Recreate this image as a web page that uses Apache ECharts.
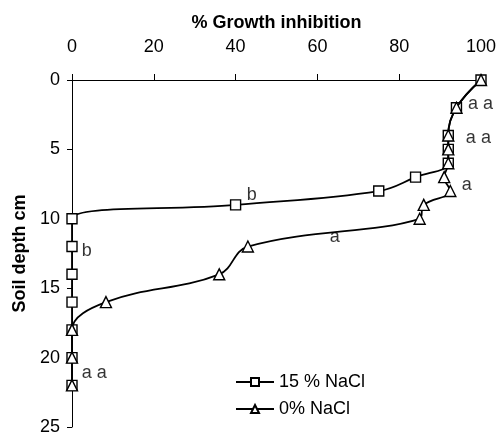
<!DOCTYPE html>
<html>
<head>
<meta charset="utf-8">
<script src="https://cdn.jsdelivr.net/npm/echarts@6/dist/echarts.min.js"></script>
<style>
  html, body { margin: 0; padding: 0; background: #fff; }
  #chart { width: 500px; height: 436px; }
</style>
</head>
<body>
<div id="chart"></div>
<script>
// depth (cm) and % growth inhibition
let depth = [0, 2, 4, 5, 6, 7, 8, 9, 10, 12, 14, 16, 18, 20, 22];
let inhib15 = [100, 94, 92, 92, 92, 84, 75, 40, 0, 0, 0, 0, 0, 0, 0];
let inhib0 = [100, 94, 92, 92, 92, 91, 92.5, 86, 85, 43, 36, 8.3, 0, 0, 0];
let xTicks = [0, 20, 40, 60, 80, 100];
let yTicks = [0, 5, 10, 15, 20, 25];

// significance letters next to the points
let noteText = ['a a', 'a a', 'a', 'b', 'b', 'a', 'a a'];
let noteX = [96.8, 96.3, 95.3, 42.7, 2.4, 63, 2.4];
let noteY = [1.7, 4.2, 7.6, 8.3, 12.3, 11.3, 21.1];

let font = 'Liberation Sans, Arial, sans-serif';

function pairs(xs, ys) {
    let out = [];
    for (let i = 0; i < xs.length; i++) {
        out.push([xs[i], ys[i]]);
    }
    return out;
}

let notes = [];
for (let i = 0; i < noteText.length; i++) {
    notes.push({ value: [noteX[i], noteY[i]], name: noteText[i] });
}

let myChart = echarts.init(document.getElementById('chart'));
let option = {
    animation: false,
    textStyle: { fontFamily: font, color: '#000' },
    grid: {
        left: 72,
        right: 19,
        top: 80,
        bottom: 7
    },
    legend: {
        orient: 'vertical',
        left: 230,
        top: 368,
        itemWidth: 38,
        itemHeight: 10,
        itemGap: 9,
        textStyle: { fontFamily: font, fontSize: 18, color: '#000' },
        data: ['15 % NaCl', '0% NaCl']
    },
    xAxis: {
        type: 'value',
        position: 'top',
        min: xTicks[0],
        max: xTicks[xTicks.length - 1],
        interval: 20,
        name: '% Growth inhibition',
        nameLocation: 'middle',
        nameGap: 48,
        nameTextStyle: { fontFamily: font, fontSize: 18, fontWeight: 'bold', color: '#000' },
        axisLine: { lineStyle: { color: '#000', width: 1 } },
        axisTick: { show: true, length: 6, lineStyle: { color: '#000' } },
        axisLabel: { fontFamily: font, fontSize: 18, color: '#000', margin: 24 },
        splitLine: { show: false }
    },
    yAxis: {
        type: 'value',
        inverse: true,
        min: yTicks[0],
        max: yTicks[yTicks.length - 1],
        interval: 5,
        name: 'Soil depth cm',
        nameLocation: 'middle',
        nameGap: 41,
        nameTextStyle: { fontFamily: font, fontSize: 18, fontWeight: 'bold', color: '#000' },
        axisLine: { lineStyle: { color: '#000', width: 1 } },
        axisTick: { show: true, length: 5, lineStyle: { color: '#000' } },
        axisLabel: { fontFamily: font, fontSize: 18, color: '#000', margin: 12 },
        splitLine: { show: false }
    },
    series: [
        {
            name: '15 % NaCl',
            type: 'line',
            smooth: 0.4,
            clip: false,
            symbol: 'rect',
            symbolSize: 10,
            z: 2,
            lineStyle: { color: '#000', width: 1.8 },
            itemStyle: { color: '#fff', borderColor: '#000', borderWidth: 1.4 },
            data: pairs(inhib15, depth)
        },
        {
            name: '0% NaCl',
            type: 'line',
            smooth: 0.4,
            clip: false,
            symbol: 'triangle',
            symbolSize: 11,
            z: 3,
            lineStyle: { color: '#000', width: 1.8 },
            itemStyle: { color: '#fff', borderColor: '#000', borderWidth: 1.4 },
            data: pairs(inhib0, depth)
        },
        {
            name: 'notes',
            type: 'scatter',
            symbolSize: 0,
            clip: false,
            silent: true,
            label: {
                show: true,
                position: 'right',
                distance: 0,
                formatter: '{b}',
                fontFamily: font,
                fontSize: 18,
                color: '#000'
            },
            data: notes
        }
    ]
};
myChart.setOption(option);
</script>
</body>
</html>
